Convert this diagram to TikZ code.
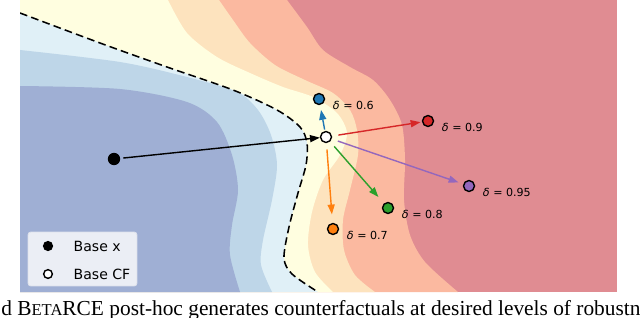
\documentclass[tikz,border=0pt]{standalone}
\usepackage{fontspec}
\usepackage{tikz}
\usetikzlibrary{arrows.meta, positioning}
\setmainfont{Liberation Serif}
\newfontfamily\plotfont{DejaVu Sans}
\definecolor{cfblue}{HTML}{1F77B4}
\definecolor{cforange}{HTML}{FF7F0E}
\definecolor{cfgreen}{HTML}{2CA02C}
\definecolor{cfred}{HTML}{D62728}
\definecolor{cfpurple}{HTML}{9467BD}
\definecolor{lvlred}{HTML}{E08C92}
\definecolor{lvlsalmon}{HTML}{FBB9A0}
\definecolor{lvlorange}{HTML}{FDE3BE}
\definecolor{lvlyellow}{HTML}{FFFEE0}
\definecolor{lvlpale}{HTML}{E0F0F7}
\definecolor{lvlmid}{HTML}{BED6E8}
\definecolor{lvldark}{HTML}{9FAFD4}
\definecolor{legendbg}{HTML}{EBEEF5}
\definecolor{legendedge}{HTML}{DDE1EB}
\tikzset{
  % counterfactual points -- usage: \node[cfpoint=cfred] ...
  cfpoint/.style={circle, draw=black, line width=1pt, fill=#1,
                  minimum size=7.8pt, inner sep=0pt},
  basex/.style={circle, fill=black, minimum size=8.8pt, inner sep=0pt},
  % arrows from the base CF
  cfarrow/.style={-{Triangle[length=7pt,width=5pt]}, draw=#1, line width=1pt,
                  shorten <=4.5pt, shorten >=3.5pt},
  dlabel/.style={font=\plotfont\fontsize{7.9}{9}\selectfont, inner sep=0pt},
  % decision boundary
  boundary/.style={black, line width=1.1pt, dash pattern=on 5.5pt off 3pt},
  % legend
  legbox/.style={draw=legendedge, fill=legendbg, rounded corners=2pt,
                 line width=0.6pt, minimum width=77.5pt, minimum height=38.4pt},
  legmark/.style={circle, draw=black, line width=1pt, fill=#1,
                  minimum size=6.2pt, inner sep=0pt},
  legtext/.style={font=\plotfont\fontsize{10}{12}\selectfont, inner sep=0pt},
}

\begin{document}
\begin{tikzpicture}[x=0.25mm, y=-0.25mm]
\useasboundingbox (0,0) rectangle (640,317);

% ── Contour levels ───────────────────────────────────────────────────────────
\begin{scope}
\clip (20,0) rectangle (617,292);
\fill[lvlred] (20,0) rectangle (617,292);
\fill[lvlsalmon] (20,0) -- plot[smooth] coordinates {(287,0) (307,27) (323,50)
  (350,67) (373,80) (390,100) (402,125) (405,160) (404,200) (410,235) (425,262)
  (458,292)} -- (20,292) -- cycle;
\fill[lvlorange] (20,0) -- plot[smooth] coordinates {(219,0) (233,20) (250,43)
  (275,65) (305,80) (333,93) (350,110) (357,130) (358,155) (350,190) (343,220)
  (344,250) (355,275) (375,292)} -- (20,292) -- cycle;
\fill[lvlyellow] (20,0) -- plot[smooth] coordinates {(168,0) (187,33) (217,57)
  (250,73) (283,87) (313,97) (337,113) (347,133) (340,155) (323,180) (312,212)
  (308,245) (315,272) (333,292)} -- (20,292) -- cycle;
\fill[lvlpale] plot[smooth] coordinates {(20,13) (100,43) (167,67) (233,90)
  (277,110) (300,127) (307,143) (306,165) (298,193) (289,227) (284,258)
  (292,274) (318,292)} -- (20,292) -- cycle;
\fill[lvlmid] plot[smooth] coordinates {(20,50) (120,62) (187,77) (237,92)
  (258,110) (271,135) (277,165) (272,200) (263,240) (261,265) (272,292)}
  -- (20,292) -- cycle;
\fill[lvldark] plot[smooth] coordinates {(20,86) (120,89) (187,102) (217,122)
  (232,155) (238,190) (232,225) (230,255) (240,292)} -- (20,292) -- cycle;

% decision boundary
\draw[boundary] plot[smooth] coordinates {(20,13) (100,43) (167,67) (233,90)
  (277,110) (300,127) (307,143) (306,165) (298,193) (289,227) (284,258)
  (292,274) (318,292)};
\end{scope}

% ── Points ───────────────────────────────────────────────────────────────────
\node[basex]            (basex)  at (114,159) {};
\node[cfpoint=white]    (basecf) at (326,137) {};
\node[cfpoint=cfblue]   (d06)    at (319,99)  {};
\node[cfpoint=cforange] (d07)    at (333,229) {};
\node[cfpoint=cfgreen]  (d08)    at (388,208) {};
\node[cfpoint=cfred]    (d09)    at (428,121) {};
\node[cfpoint=cfpurple] (d095)   at (469,186) {};

% ── Labels ───────────────────────────────────────────────────────────────────
\node[dlabel, right=5.3pt of d06,  yshift=-4.6pt, anchor=west] (l06)  {{\itshape δ} = 0.6};
\node[dlabel, right=5.3pt of d07,  yshift=-4.6pt, anchor=west] (l07)  {{\itshape δ} = 0.7};
\node[dlabel, right=5.3pt of d08,  yshift=-4.6pt, anchor=west] (l08)  {{\itshape δ} = 0.8};
\node[dlabel, right=5.3pt of d09,  yshift=-4.6pt, anchor=west] (l09)  {{\itshape δ} = 0.9};
\node[dlabel, right=5.3pt of d095, yshift=-4.6pt, anchor=west] (l095) {{\itshape δ} = 0.95};

% ── Arrows ───────────────────────────────────────────────────────────────────
\draw[cfarrow=black, shorten <=2pt, shorten >=0pt] (basex) -- (basecf);
\draw[cfarrow=cfblue, shorten <=1pt]   (basecf) -- (d06);
\draw[cfarrow=cforange, shorten >=6pt] (basecf) -- (d07);
\draw[cfarrow=cfgreen, shorten >=6pt]  (basecf) -- (d08);
\draw[cfarrow=cfred, shorten >=1pt]    (basecf) -- (d09);
\draw[cfarrow=cfpurple]                (basecf) -- (d095);

% ── Legend ───────────────────────────────────────────────────────────────────
\node[legbox] (legend) at (82.5,259) {};
\node[legmark=black] (legx)  at (48,246) {};
\node[legmark=white] (legcf) at (48,274) {};
\node[legtext, right=14.5pt of legx,  anchor=west] (legxt)  {Base x};
\node[legtext, right=14.5pt of legcf, anchor=west] (legcft) {Base CF};

% ── Caption ──────────────────────────────────────────────────────────────────
\node[anchor=base west, inner sep=0pt, font=\fontsize{15.2}{18}\selectfont]
  (caption) at (1,315) {d B{\fontsize{11.8}{14}\selectfont ETA}RCE post-hoc
  generates counterfactuals at desired levels of robustn};

\end{tikzpicture}
\end{document}
